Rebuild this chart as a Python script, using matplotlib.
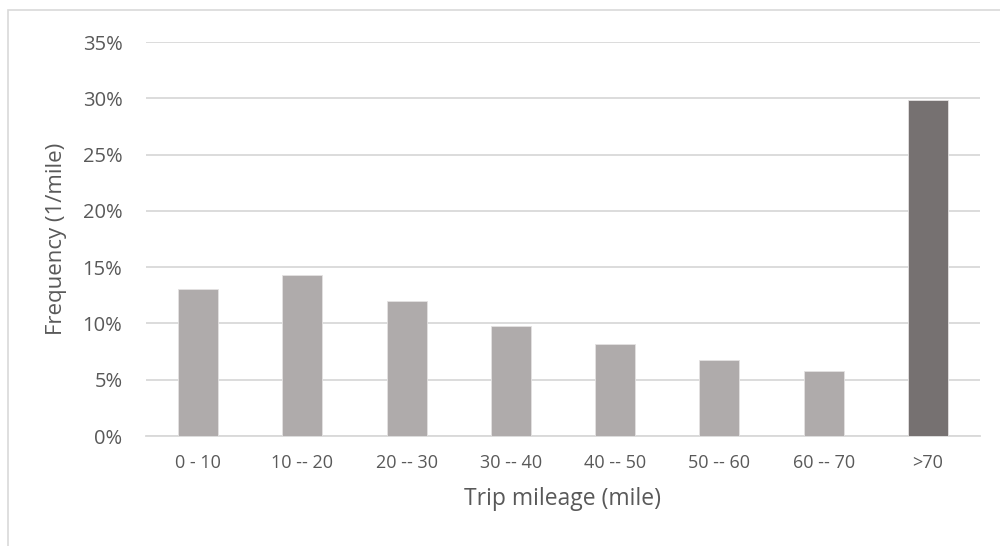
import matplotlib
matplotlib.use("Agg")
import matplotlib.pyplot as plt
from matplotlib.ticker import PercentFormatter, MultipleLocator
from matplotlib.patches import Rectangle

categories = ["0 - 10", "10 -- 20", "20 -- 30", "30 -- 40", "40 -- 50", "50 -- 60", "60 -- 70", ">70"]
frequency = [13.1, 14.3, 12.0, 9.75, 8.2, 6.75, 5.8, 29.85]
bar_colors = ["#AFABAB"] * 7 + ["#767171"]

text_color = "#595959"
grid_color = "#D9D9D9"
plt.rcParams["font.family"] = ["Open Sans", "DejaVu Sans"]

fig = plt.figure(figsize=(10, 5.46), dpi=100)
ax = fig.add_axes([0.146, 1 - 436 / 546, 0.834, (436 - 42) / 546])

x = list(range(len(categories)))
ax.bar(x, frequency, width=0.385, color=bar_colors, zorder=3,
       edgecolor="#E4E2E2", linewidth=0.6)

ax.set_xlim(-0.5, len(categories) - 0.5)
ax.set_ylim(0, 35)
ax.yaxis.set_major_locator(MultipleLocator(5))
ax.yaxis.set_major_formatter(PercentFormatter(decimals=0))
ax.set_xticks(x)
ax.set_xticklabels(categories)

ax.grid(axis="y", color=grid_color, linewidth=1.3, zorder=0)
for s in ["top", "right", "left"]:
    ax.spines[s].set_visible(False)
ax.spines["bottom"].set_color(grid_color)
ax.spines["bottom"].set_linewidth(1.3)
ax.tick_params(axis="both", length=0, colors=text_color)
ax.tick_params(axis="y", pad=17, labelsize=14.5)
ax.tick_params(axis="x", pad=13, labelsize=13)

ax.set_xlabel("Trip mileage (mile)", fontsize=16.5, color=text_color, labelpad=11)
ax.set_ylabel("Frequency (1/mile)", fontsize=16, color=text_color, labelpad=11)

# chart area border
fig.patches.append(Rectangle((0.008, -0.05), 1.2, 1.032, transform=fig.transFigure,
                             fill=False, edgecolor="#D9D9D9", linewidth=1.2))

fig.savefig("out.png", dpi=100)
